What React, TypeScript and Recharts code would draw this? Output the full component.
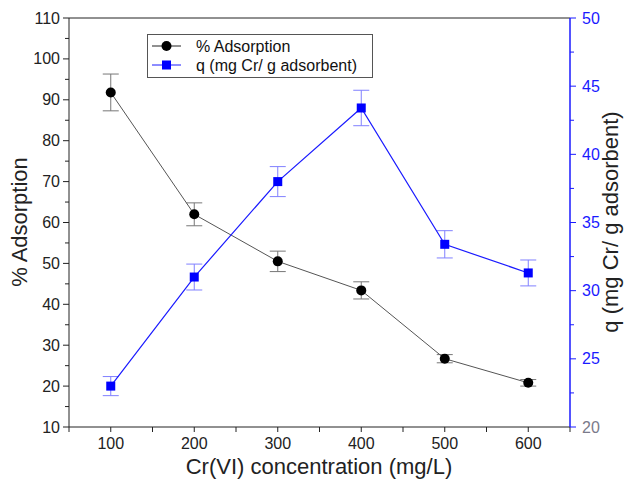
import { ComposedChart, Line, XAxis, YAxis, ErrorBar, Legend, ReferenceLine } from 'recharts';

const concentrations = [100, 200, 300, 400, 500, 600];
const adsorption = [91.8, 62, 50.5, 43.4, 26.7, 20.8];
const adsorptionErr = [4.5, 2.8, 2.5, 2.1, 1.0, 0.8];
const qValues = [23, 31, 38, 43.4, 33.4, 31.3];
const qErr = [0.7, 0.95, 1.1, 1.3, 1.0, 0.95];

const xTicks = [50, 100, 150, 200, 250, 300, 350, 400, 450, 500, 550, 600, 650];
const xLabels = [100, 200, 300, 400, 500, 600];
const leftTicks = [10, 15, 20, 25, 30, 35, 40, 45, 50, 55, 60, 65, 70, 75, 80, 85, 90, 95, 100, 105, 110];
const rightTicks = [20, 22.5, 25, 27.5, 30, 32.5, 35, 37.5, 40, 42.5, 45, 47.5, 50];

const data = concentrations.map((c, i) => ({
  conc: c,
  pct: adsorption[i],
  pctErr: adsorptionErr[i],
  q: qValues[i],
  qErr: qErr[i],
}));

const FONT = '"Liberation Sans", Arial, sans-serif';
const BLUE = '#1a1aff';

const BottomTick = ({ x, y, payload }: any) => {
  const v = payload.value;
  return (
    <g>
      <line x1={x} x2={x} y1={y} y2={y + 5} stroke="#222" />
      {xLabels.includes(v) && (
        <text x={x} y={y + 22} textAnchor="middle" fontSize={16} fontFamily={FONT} fill="#222">{v}</text>
      )}
    </g>
  );
};

const LeftTick = ({ x, y, payload }: any) => {
  const v = payload.value;
  const major = v % 10 === 0;
  return (
    <g>
      <line x1={x} x2={x - (major ? 6 : 4)} y1={y} y2={y} stroke="#222" />
      {major && (
        <text x={x - 9} y={y + 5.5} textAnchor="end" fontSize={16} fontFamily={FONT} fill="#222">{v}</text>
      )}
    </g>
  );
};

const RightTick = ({ x, y, payload }: any) => {
  const v = payload.value;
  const major = v % 5 === 0;
  return (
    <g>
      <line x1={x} x2={x + (major ? 6 : 4)} y1={y} y2={y} stroke={BLUE} />
      {major && (
        <text x={x + 12} y={y + 5.5} textAnchor="start" fontSize={16} fontFamily={FONT} fill={v === 20 ? '#7a7a8a' : BLUE}>{v}</text>
      )}
    </g>
  );
};

const SquareDot = (props: any) => {
  const { cx, cy, index } = props;
  return <rect key={`sq-${index}`} x={cx - 4.5} y={cy - 4.5} width={9} height={9} fill="#0000ff" />;
};

const renderLegend = () => (
  <svg width={226} height={44} style={{ display: 'block' }}>
    <rect x={0.5} y={0.5} width={225} height={43} fill="#fff" stroke="#555" />
    <line x1={5} x2={34} y1={12} y2={12} stroke="#222" />
    <circle cx={19.5} cy={12} r={5} fill="#000" />
    <text x={49} y={18} fontSize={16} fontFamily={FONT} fill="#111">% Adsorption</text>
    <line x1={5} x2={34} y1={31} y2={31} stroke={BLUE} />
    <rect x={15} y={26.5} width={9} height={9} fill="#0000ff" />
    <text x={49} y={37} fontSize={16} fontFamily={FONT} fill="#111">q (mg Cr/ g adsorbent)</text>
  </svg>
);

export default function App() {
  return (
    <>
      <style>{'body{margin:0}'}</style>
      <ComposedChart width={629} height={484} data={data} margin={{ top: 18, right: 9, bottom: 17, left: 19 }}>
        <XAxis
          dataKey="conc"
          type="number"
          domain={[50, 650]}
          ticks={xTicks}
          interval={0}
          tickSize={0}
          tickMargin={0}
          tickLine={false}
          tick={(p: any) => <BottomTick {...p} />}
          axisLine={{ stroke: '#222' }}
          height={40}
          label={{
            content: () => (
              <text x={319} y={474} textAnchor="middle" fontSize={22} fontFamily={FONT} fill="#222">
                Cr(VI) concentration (mg/L)
              </text>
            ),
          }}
        />
        <YAxis
          yAxisId="left"
          domain={[10, 110]}
          ticks={leftTicks}
          interval={0}
          width={50}
          tickSize={0}
          tickMargin={0}
          tickLine={false}
          tick={(p: any) => <LeftTick {...p} />}
          axisLine={{ stroke: '#222' }}
          label={{
            content: () => (
              <text x={27} y={222} transform="rotate(-90 27 222)" textAnchor="middle" fontSize={22} fontFamily={FONT} fill="#222">
                % Adsorption
              </text>
            ),
          }}
        />
        <YAxis
          yAxisId="right"
          orientation="right"
          domain={[20, 50]}
          ticks={rightTicks}
          interval={0}
          width={50}
          tickSize={0}
          tickMargin={0}
          tickLine={false}
          tick={(p: any) => <RightTick {...p} />}
          axisLine={{ stroke: BLUE, strokeWidth: 1.5 }}
          label={{
            content: () => (
              <text x={618} y={222} transform="rotate(-90 618 222)" textAnchor="middle" fontSize={22} fontFamily={FONT} fill="#222">
                q (mg Cr/ g adsorbent)
              </text>
            ),
          }}
        />
        <ReferenceLine yAxisId="left" y={110} stroke="#222" />
        <Line
          yAxisId="left"
          dataKey="pct"
          stroke="#555"
          strokeWidth={1}
          dot={{ r: 5, fill: '#000', stroke: '#000', strokeWidth: 0 }}
          isAnimationActive={false}
        >
          <ErrorBar dataKey="pctErr" width={8} stroke="#777" strokeWidth={1} direction="y" />
        </Line>
        <Line
          yAxisId="right"
          dataKey="q"
          stroke={BLUE}
          strokeWidth={1.2}
          dot={SquareDot}
          isAnimationActive={false}
        >
          <ErrorBar dataKey="qErr" width={8} stroke="#8080ff" strokeWidth={1} direction="y" />
        </Line>
        <Legend
          layout="vertical"
          align="center"
          verticalAlign="middle"
          content={renderLegend}
          wrapperStyle={{ left: 147, top: 34, width: 226, height: 44 }}
        />
      </ComposedChart>
    </>
  );
}
